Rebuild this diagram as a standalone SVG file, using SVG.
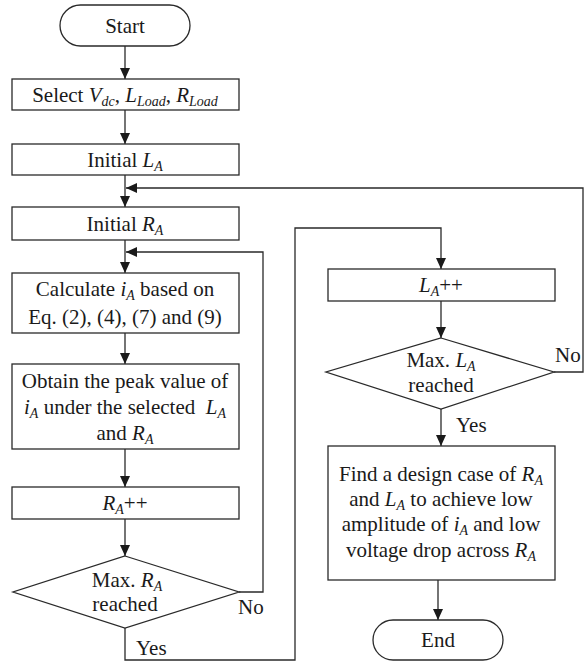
<svg xmlns="http://www.w3.org/2000/svg" width="584" height="664" viewBox="0 0 584 664">
<defs>
<marker id="arr" markerWidth="11" markerHeight="10" refX="11" refY="5" orient="auto" markerUnits="userSpaceOnUse">
<path d="M0,0 L11,5 L0,10 Z" fill="#1a1a1a"/>
</marker>
<style>
.box{fill:#fff;stroke:#2a2a2a;stroke-width:1.3}
.ln{fill:none;stroke:#2a2a2a;stroke-width:1.3}
text{font-family:'Liberation Serif',serif;font-size:21px;fill:#1a1a1a}
.c{text-anchor:middle}
.i{font-style:italic}
.s{font-size:14px;font-style:italic}
</style>
</defs>
<rect width="584" height="664" fill="#fff"/>
<g id="connectors">
<path class="ln" d="M125,46 V79" marker-end="url(#arr)"/>
<path class="ln" d="M125,110 V144" marker-end="url(#arr)"/>
<path class="ln" d="M125,175 V207" marker-end="url(#arr)"/>
<path class="ln" d="M554,372 H583 V188 H126" marker-end="url(#arr)"/>
<path class="ln" d="M125,240 V273" marker-end="url(#arr)"/>
<path class="ln" d="M239,592 H263 V252 H126" marker-end="url(#arr)"/>
<path class="ln" d="M125,333 V364" marker-end="url(#arr)"/>
<path class="ln" d="M125,449 V487" marker-end="url(#arr)"/>
<path class="ln" d="M125,519 V556" marker-end="url(#arr)"/>
<path class="ln" d="M125,628 V660 H295 V228 H441 V269" marker-end="url(#arr)"/>
<path class="ln" d="M441,301 V338" marker-end="url(#arr)"/>
<path class="ln" d="M441,409 V446" marker-end="url(#arr)"/>
<path class="ln" d="M438,580 V620" marker-end="url(#arr)"/>
<text font-family="Liberation Serif" x="238" y="614">No</text>
<text font-family="Liberation Serif" x="136" y="655">Yes</text>
<text font-family="Liberation Serif" x="555" y="362">No</text>
<text font-family="Liberation Serif" x="456" y="432">Yes</text>
</g>
<g id="start">
<rect class="box" x="60" y="5" width="130" height="41" rx="20.5"/>
<text font-family="Liberation Serif" class="c" x="125" y="33">Start</text>
</g>
<g id="select">
<rect class="box" x="12" y="79" width="227" height="31"/>
<text font-family="Liberation Serif" class="c" x="125" y="102">Select <tspan class="i">V</tspan><tspan class="s" dy="4">dc</tspan><tspan dy="-4">, </tspan><tspan class="i">L</tspan><tspan class="s" dy="4">Load</tspan><tspan dy="-4">, </tspan><tspan class="i">R</tspan><tspan class="s" dy="4">Load</tspan></text>
</g>
<g id="initLA">
<rect class="box" x="12" y="144" width="227" height="31"/>
<text font-family="Liberation Serif" class="c" x="125" y="167">Initial <tspan class="i">L</tspan><tspan class="s" dy="4">A</tspan></text>
</g>
<g id="initRA">
<rect class="box" x="12" y="207" width="227" height="33"/>
<text font-family="Liberation Serif" class="c" x="125" y="231">Initial <tspan class="i">R</tspan><tspan class="s" dy="4">A</tspan></text>
</g>
<g id="calc">
<rect class="box" x="12" y="273" width="227" height="60"/>
<text font-family="Liberation Serif" class="c" x="125" y="296">Calculate <tspan class="i">i</tspan><tspan class="s" dy="4">A</tspan><tspan dy="-4"> based on</tspan></text>
<text font-family="Liberation Serif" class="c" x="125" y="324">Eq. (2), (4), (7) and (9)</text>
</g>
<g id="obtain">
<rect class="box" x="12" y="364" width="227" height="85"/>
<text font-family="Liberation Serif" class="c" x="125" y="388">Obtain the peak value of</text>
<text font-family="Liberation Serif" class="c" x="125" y="414" xml:space="preserve"><tspan class="i">i</tspan><tspan class="s" dy="4">A</tspan><tspan dy="-4"> under the selected  </tspan><tspan class="i">L</tspan><tspan class="s" dy="4">A</tspan></text>
<text font-family="Liberation Serif" class="c" x="125" y="440">and <tspan class="i">R</tspan><tspan class="s" dy="4">A</tspan></text>
</g>
<g id="rainc">
<rect class="box" x="12" y="487" width="227" height="32"/>
<text font-family="Liberation Serif" class="c" x="125" y="510"><tspan class="i">R</tspan><tspan class="s" dy="4">A</tspan><tspan dy="-4">++</tspan></text>
</g>
<g id="maxRA">
<polygon class="box" points="125,556 239,592 125,628 13,592"/>
<text font-family="Liberation Serif" class="c" x="127" y="587">Max. <tspan class="i">R</tspan><tspan class="s" dy="4">A</tspan></text>
<text font-family="Liberation Serif" class="c" x="125" y="611">reached</text>
</g>
<g id="lainc">
<rect class="box" x="328" y="269" width="227" height="32"/>
<text font-family="Liberation Serif" class="c" x="441" y="292"><tspan class="i">L</tspan><tspan class="s" dy="4">A</tspan><tspan dy="-4">++</tspan></text>
</g>
<g id="maxLA">
<polygon class="box" points="441,338 554,372 441,409 326,372"/>
<text font-family="Liberation Serif" class="c" x="441" y="367">Max. <tspan class="i">L</tspan><tspan class="s" dy="4">A</tspan></text>
<text font-family="Liberation Serif" class="c" x="441" y="392">reached</text>
</g>
<g id="find">
<rect class="box" x="328" y="446" width="227" height="134"/>
<text font-family="Liberation Serif" class="c" x="441" y="481">Find a design case of <tspan class="i">R</tspan><tspan class="s" dy="4">A</tspan></text>
<text font-family="Liberation Serif" class="c" x="441" y="506">and <tspan class="i">L</tspan><tspan class="s" dy="4">A</tspan><tspan dy="-4"> to achieve low</tspan></text>
<text font-family="Liberation Serif" class="c" x="441" y="531">amplitude of <tspan class="i">i</tspan><tspan class="s" dy="4">A</tspan><tspan dy="-4"> and low</tspan></text>
<text font-family="Liberation Serif" class="c" x="441" y="557">voltage drop across <tspan class="i">R</tspan><tspan class="s" dy="4">A</tspan></text>
</g>
<g id="end">
<rect class="box" x="373" y="620" width="130" height="40" rx="20"/>
<text font-family="Liberation Serif" class="c" x="438" y="647">End</text>
</g>
</svg>
